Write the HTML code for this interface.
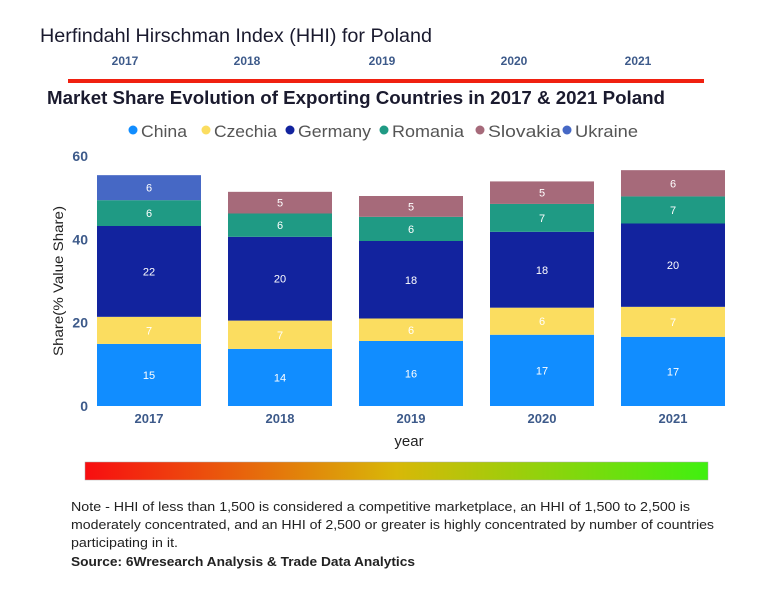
<!DOCTYPE html>
<html><head><meta charset="utf-8"><style>
body{margin:0;background:#fff;width:768px;height:600px;overflow:hidden}
svg{font-family:"Liberation Sans",sans-serif}
</style></head><body>
<svg id="c" width="768" height="600">
<defs><linearGradient id="g" x1="0" x2="1"><stop offset="0" stop-color="#f80d10"/><stop offset="0.5" stop-color="#d8b808"/><stop offset="1" stop-color="#40f010"/></linearGradient></defs>
<text x="40" y="42" font-size="19" fill="#1a1a2e" textLength="392" lengthAdjust="spacingAndGlyphs">Herfindahl Hirschman Index (HHI) for Poland</text>
<g font-size="12" font-weight="bold" fill="#3d5a8a" text-anchor="middle">
<text x="125" y="65">2017</text><text x="247" y="65">2018</text><text x="382" y="65">2019</text><text x="514" y="65">2020</text><text x="638" y="65">2021</text></g>
<rect x="68" y="79" width="636" height="4" fill="#f02010"/>
<text x="47" y="104" font-size="18" font-weight="bold" fill="#1a1a2e" textLength="618" lengthAdjust="spacingAndGlyphs">Market Share Evolution of Exporting Countries in 2017 &amp; 2021 Poland</text>
<g id="legend" font-size="17" fill="#555"></g>
<g id="plot"></g>
<text transform="translate(63,281) rotate(-90)" font-size="14" fill="#222" text-anchor="middle" textLength="150" lengthAdjust="spacingAndGlyphs">Share(% Value Share)</text>
<text x="409" y="446" font-size="15" fill="#222" text-anchor="middle">year</text>
<rect x="85" y="462" width="623" height="18" fill="url(#g)" stroke="#aaa" stroke-width="0.5"/>
<g font-size="13" fill="#222">
<text x="71" y="511" textLength="619" lengthAdjust="spacingAndGlyphs">Note - HHI of less than 1,500 is considered a competitive marketplace, an HHI of 1,500 to 2,500 is</text>
<text x="71" y="529" textLength="643" lengthAdjust="spacingAndGlyphs">moderately concentrated, and an HHI of 2,500 or greater is highly concentrated by number of countries</text>
<text x="71" y="547" textLength="107" lengthAdjust="spacingAndGlyphs">participating in it.</text>
<text x="71" y="566" font-weight="bold" textLength="344" lengthAdjust="spacingAndGlyphs">Source: 6Wresearch Analysis &amp; Trade Data Analytics</text></g>
</svg>
<script>
const years=['2017','2018','2019','2020','2021'];
const seriesNames=['China','Czechia','Germany','Romania','Slovakia','Ukraine'];
const china=[14.9,13.7,15.6,17.1,16.6];
const czechia=[6.5,6.8,5.4,6.5,7.2];
const germany=[21.8,20.1,18.6,18.2,20.0];
const romania=[6.2,5.6,5.8,6.7,6.5];
const slovakia=[0,5.2,5.0,5.4,6.3];
const ukraine=[6.0,0,0,0,0];
const labels=[['15','14','16','17','17'],['7','7','6','6','7'],['22','20','18','18','20'],['6','6','6','7','7'],['','5','5','5','6'],['6','','','','']];
const yTicks=[0,20,40,60];
const colors=['#118dff','#fbdd60','#12239e','#1f9a84','#a66a7a','#4668c5'];
const series=[china,czechia,germany,romania,slovakia,ukraine];
const NS='http://www.w3.org/2000/svg';
const y0=406,yTop=156,x0=97,pitch=131,bw=104;
const Y=v=>y0-(v/60)*(y0-yTop);
const X=i=>x0+i*pitch;
const plot=document.getElementById('plot');
function mk(t,a){const e=document.createElementNS(NS,t);for(const k in a)e.setAttribute(k,a[k]);return e;}
yTicks.forEach(t=>{const e=mk('text',{x:88,y:Y(t)+5,'font-size':14,'font-weight':'bold',fill:'#3d5a8a','text-anchor':'end'});e.textContent=t;


plot.appendChild(e);});
years.forEach((yr,i)=>{let base=0;
series.forEach((s,j)=>{const v=s[i];if(!v)return;
const r=mk('rect',{x:X(i),y:Y(base+v),width:bw,height:Y(base)-Y(base+v),fill:colors[j]});


plot.appendChild(r);
const t=mk('text',{x:X(i)+bw/2,y:(Y(base)+Y(base+v))/2+4,'font-size':11,fill:'#fff','text-anchor':'middle'});t.textContent=labels[j][i];


plot.appendChild(t);
base+=v;});
const xl=mk('text',{x:X(i)+bw/2,y:423,'font-size':13,'font-weight':'bold',fill:'#3d5a8a','text-anchor':'middle'});xl.textContent=yr;


plot.appendChild(xl);});
const lg=document.getElementById('legend');
const lx=[129,202,286,380,476,563],lw=[46,63,73,72,73,63];
seriesNames.forEach((n,j)=>{const c=mk('circle',{cx:lx[j]+4,cy:130,r:4.5,fill:colors[j]});


lg.appendChild(c);
const t=mk('text',{x:lx[j]+12,y:137,textLength:lw[j],lengthAdjust:'spacingAndGlyphs'});t.textContent=n;


lg.appendChild(t);});
</script>
</body></html>
